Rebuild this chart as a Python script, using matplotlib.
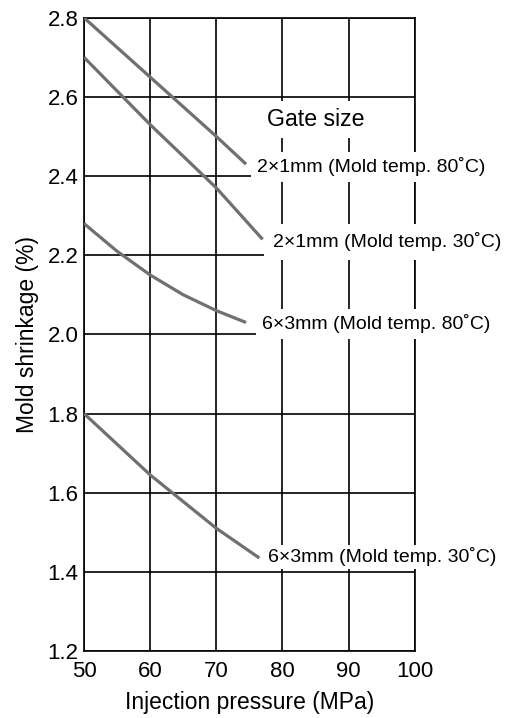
import matplotlib.pyplot as plt

plt.rcParams['font.family'] = ['Liberation Sans', 'DejaVu Sans']

# Curves (injection pressure MPa, mold shrinkage %)
x_2x1_80 = [50, 60, 70, 74.5]
y_2x1_80 = [2.80, 2.65, 2.50, 2.43]

x_2x1_30 = [50, 60, 70, 77]
y_2x1_30 = [2.70, 2.53, 2.37, 2.24]

x_6x3_80 = [50, 55, 60, 65, 70, 74.5]
y_6x3_80 = [2.28, 2.21, 2.15, 2.10, 2.06, 2.03]

x_6x3_30 = [50, 60, 70, 76.5]
y_6x3_30 = [1.80, 1.645, 1.51, 1.435]

labels = ['2\u00d71mm (Mold temp. 80\u02daC)',
          '2\u00d71mm (Mold temp. 30\u02daC)',
          '6\u00d73mm (Mold temp. 80\u02daC)',
          '6\u00d73mm (Mold temp. 30\u02daC)']

xticks = [50, 60, 70, 80, 90, 100]
yticks = [1.2, 1.4, 1.6, 1.8, 2.0, 2.2, 2.4, 2.6, 2.8]

fig = plt.figure(figsize=(5.09, 7.18), dpi=100)
ax = fig.add_axes([0.165, 0.0933, 0.65, 0.882])

series = [(x_2x1_80, y_2x1_80), (x_2x1_30, y_2x1_30),
          (x_6x3_80, y_6x3_80), (x_6x3_30, y_6x3_30)]
for xs, ys in series:
    ax.plot(xs, ys, color='#707070', lw=2.3, solid_capstyle='butt', zorder=3)

ax.set_xlim(50, 100)
ax.set_ylim(1.2, 2.8)
ax.set_xticks(xticks)
ax.set_yticks(yticks)
ax.set_yticklabels(['%.1f' % v for v in yticks])
ax.tick_params(length=0, labelsize=16, pad=4)
ax.tick_params(axis='x', pad=7)
ax.grid(True, color='black', lw=1.2)
ax.set_axisbelow(True)
for s in ax.spines.values():
    s.set_linewidth(1.2)
    s.set_zorder(2)

ax.set_xlabel('Injection pressure (MPa)', fontsize=16.5, labelpad=7)
ax.set_ylabel('Mold shrinkage (%)', fontsize=16.5, labelpad=6)

# Curve labels with white boxes that cut the grid
ax.text(85, 2.542, 'Gate size', fontsize=16.7, ha='center', va='center',
        bbox=dict(facecolor='white', edgecolor='none', pad=5),
        zorder=5, clip_on=False)
label_pos = [(76.1, 2.423), (78.5, 2.234), (76.9, 2.027), (77.8, 1.438)]
label_pad = [4, 6, 4, 2]
for (lx, ly), txt, p in zip(label_pos, labels, label_pad):
    ax.text(lx, ly, txt, fontsize=14, ha='left', va='center',
            bbox=dict(facecolor='white', edgecolor='none', pad=p),
            zorder=5, clip_on=False)

fig.savefig('out.png', dpi=100)
